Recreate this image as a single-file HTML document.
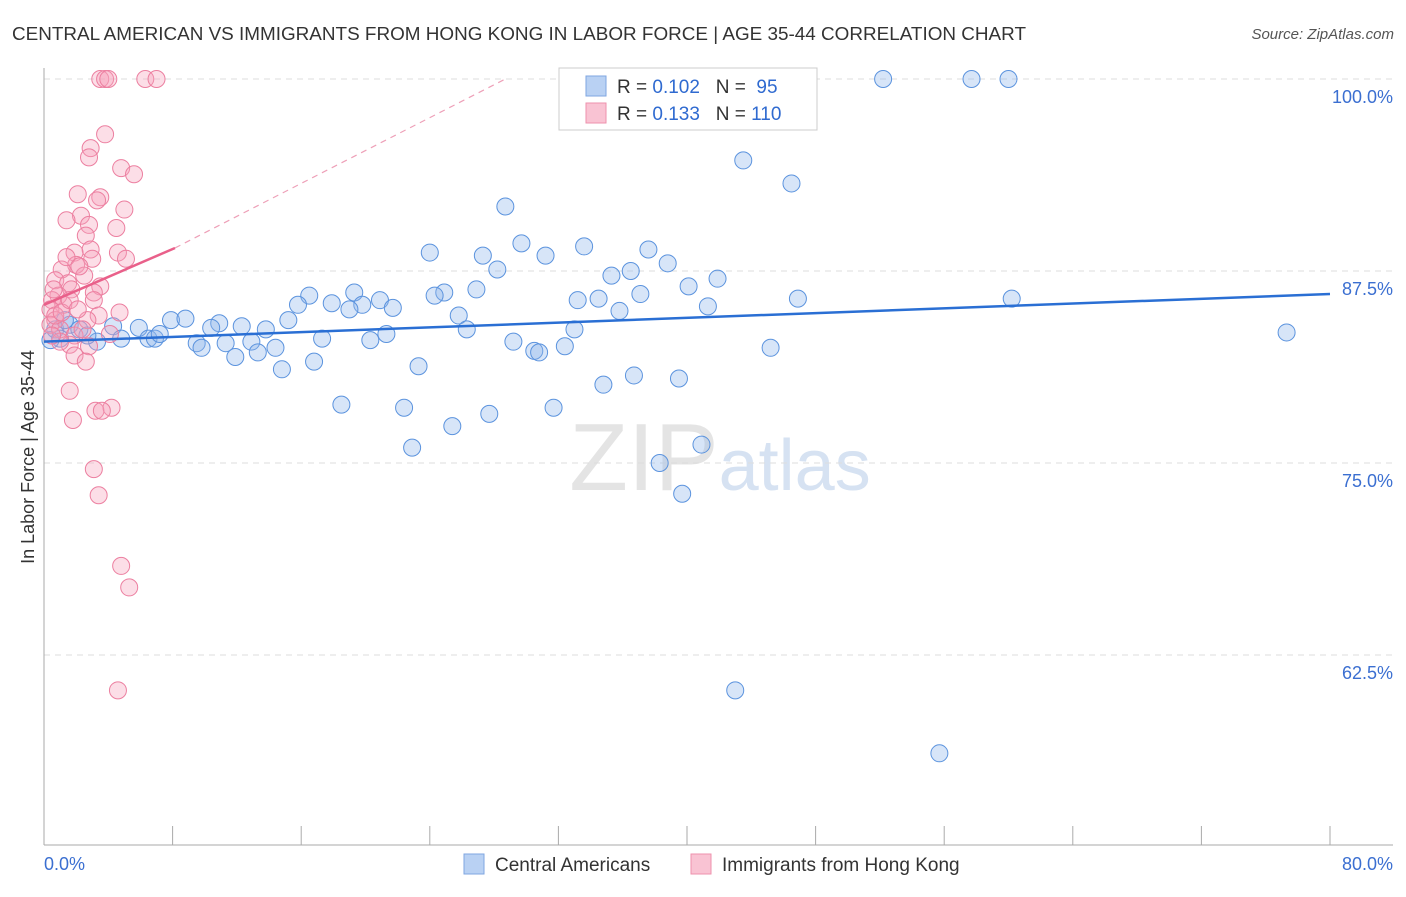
<!DOCTYPE html>
<html><head><meta charset="utf-8"><style>
body{margin:0;background:#fff;font-family:"Liberation Sans",sans-serif;}
svg text{font-family:"Liberation Sans",sans-serif;}
</style></head><body>
<svg id="chart" width="1406" height="892">
<text x="12" y="40" font-size="18" fill="#333" textLength="1014" lengthAdjust="spacingAndGlyphs">CENTRAL AMERICAN VS IMMIGRANTS FROM HONG KONG IN LABOR FORCE | AGE 35-44 CORRELATION CHART</text>
<text x="1394" y="39" font-size="15" fill="#555" text-anchor="end" font-style="italic">Source: ZipAtlas.com</text>
<text x="720" y="490" font-size="96" fill="#e4e4e4" text-anchor="middle" font-family="Liberation Serif">ZIP<tspan fill="#d6e2f2" font-family="Liberation Sans" font-size="72">atlas</tspan></text>
<g id="grid"></g><g id="axes"></g><g id="pts"></g><g id="trend"></g>
<text x="34" y="457" font-size="18" fill="#333" text-anchor="middle" transform="rotate(-90 34 457)">In Labor Force | Age 35-44</text>
<text x="44" y="870" font-size="18" fill="#3b6fd1">0.0%</text>
<text x="1393" y="870" font-size="18" fill="#3b6fd1" text-anchor="end">80.0%</text>
<g>
<rect x="559" y="68" width="258" height="62" fill="#fff" stroke="#ccc"/>
<rect x="586" y="76" width="20" height="20" fill="#b9d1f3" stroke="#7fa6e0"/>
<rect x="586" y="103" width="20" height="20" fill="#f9c3d3" stroke="#ee91ad"/>
<text x="617" y="93" font-size="19" fill="#333">R = <tspan fill="#2f6ad0">0.102</tspan>&#160;&#160;&#160;N = <tspan fill="#2f6ad0">&#160;95</tspan></text>
<text x="617" y="120" font-size="19" fill="#333">R = <tspan fill="#2f6ad0">0.133</tspan>&#160;&#160;&#160;N = <tspan fill="#2f6ad0">110</tspan></text>
</g>
<g>
<rect x="464" y="854" width="20" height="20" fill="#b9d1f3" stroke="#7fa6e0"/>
<text x="495" y="871" font-size="19" fill="#333">Central Americans</text>
<rect x="691" y="854" width="20" height="20" fill="#f9c3d3" stroke="#ee91ad"/>
<text x="722" y="871" font-size="19" fill="#333">Immigrants from Hong Kong</text>
</g>
</svg>
<script>
const yTicks=[100,87.5,75,62.5];
const yTickLabels=["100.0%","87.5%","75.0%","62.5%"];
const xTicks=[0,8,16,24,32,40,48,56,64,72,80];
const blueX=[52.2,57.7,60.0,43.5,46.5,28.7,29.7,33.6,37.6,24.0,27.3,31.2,38.8,28.2,35.3,36.5,41.9,26.9,40.1,19.3,24.9,24.3,16.5,15.8,20.9,19.8,17.9,19.0,21.7,33.2,34.5,37.1,41.3,46.9,60.2,35.8,25.8,15.2,77.3,7.9,8.8,10.9,12.3,10.4,13.8,5.9,4.3,26.3,33.0,21.3,17.3,20.3,4.8,6.5,6.9,7.2,3.3,9.5,9.8,11.3,12.9,14.4,13.3,11.9,29.2,30.5,30.8,32.4,45.2,16.8,14.8,23.3,34.8,36.7,39.5,18.5,22.4,31.7,27.7,25.4,22.9,40.9,38.3,39.7,43.0,55.7,0.7,1.0,1.6,2.2,2.7,1.3,0.4];
const blueY=[100,100,100,94.7,93.2,91.7,89.3,89.1,88.9,88.7,88.5,88.5,88.0,87.6,87.2,87.5,87.0,86.3,86.5,86.1,86.1,85.9,85.9,85.3,85.6,85.3,85.4,85.0,85.1,85.6,85.7,86.0,85.2,85.7,85.7,84.9,84.6,84.3,83.5,84.3,84.4,84.1,83.9,83.8,83.7,83.8,83.9,83.7,83.7,83.4,83.1,83.0,83.1,83.1,83.1,83.4,82.9,82.8,82.5,82.8,82.9,82.5,82.2,81.9,82.9,82.3,82.2,82.6,82.5,81.6,81.1,81.3,80.1,80.7,80.5,78.8,78.6,78.6,78.2,77.4,76.0,76.2,75.0,73.0,60.2,56.1,83.7,83.1,84.0,83.7,83.3,84.3,83.0];
const pinkX=[3.5,3.8,4.0,6.3,7.0,3.8,2.9,2.8,4.8,5.6,2.1,3.5,3.3,5.0,2.3,1.4,2.8,4.5,2.6,2.9,1.9,4.6,5.1,3.0,2.0,1.1,2.5,0.7,1.5,1.7,3.5,3.1,0.9,0.5,1.2,0.4,3.1,4.7,3.4,2.7,0.7,0.4,1.0,1.9,2.4,4.1,1.6,2.8,1.0,1.9,2.6,1.6,3.2,4.2,3.6,1.8,3.1,3.4,4.8,5.3,4.6,0.6,1.4,2.2,0.7,1.1,1.6,2.1,0.5];
const pinkY=[100,100,100,100,100,96.4,95.5,94.9,94.2,93.8,92.5,92.3,92.1,91.5,91.1,90.8,90.5,90.3,89.8,88.9,88.7,88.7,88.3,88.3,87.9,87.6,87.2,86.9,86.7,86.3,86.5,86.1,85.9,85.6,85.3,85.0,85.6,84.8,84.6,84.3,84.3,84.0,83.7,83.3,83.7,83.4,82.7,82.6,82.9,82.0,81.6,79.7,78.4,78.6,78.4,77.8,74.6,72.9,68.3,66.9,60.2,86.3,88.4,87.8,84.6,84.8,85.6,85.0,83.3];
const blueTrend=[[0,82.9],[80,86.0]];
const pinkTrendSolid=[[0,85.3],[8.15,89.0]];
const pinkTrendDash=[[8.15,89.0],[28.7,100]];
const NS="http://www.w3.org/2000/svg";
const X=v=>44+v*(1286/80);
const Y=v=>79+(100-v)*15.36;
function mk(tag,attrs,parent){const e=document.createElementNS(NS,tag);for(const k in attrs)e.setAttribute(k,attrs[k]);document.getElementById(parent).appendChild(e);return e;}
yTicks.forEach((t,i)=>{
 const l=mk('line',{x1:44,x2:1393,y1:Y(t),y2:Y(t),stroke:'#ddd','stroke-dasharray':'6,5'},'grid');
 
 
 const tx=mk('text',{x:1393,y:Y(t)+24,'font-size':18,fill:'#3b6fd1','text-anchor':'end'},'grid');
 tx.textContent=yTickLabels[i];
 
 
});
let a=mk('line',{x1:44,x2:44,y1:68,y2:845,stroke:'#aaa'},'axes');


a=mk('line',{x1:44,x2:1393,y1:845,y2:845,stroke:'#aaa'},'axes');


xTicks.forEach(t=>{
 const l=mk('line',{x1:X(t),x2:X(t),y1:826,y2:845,stroke:'#aaa'},'axes');
 
 
});
blueX.forEach((v,i)=>{
 const c=mk('circle',{cx:X(v),cy:Y(blueY[i]),r:8.5,fill:'rgba(140,180,235,0.35)',stroke:'#5b93de','stroke-width':1},'pts');
 
 
});
pinkX.forEach((v,i)=>{
 const c=mk('circle',{cx:X(v),cy:Y(pinkY[i]),r:8.5,fill:'rgba(245,160,185,0.35)',stroke:'#ec7fa0','stroke-width':1},'pts');
 
 
});
let t=mk('line',{x1:X(blueTrend[0][0]),y1:Y(blueTrend[0][1]),x2:X(blueTrend[1][0]),y2:Y(blueTrend[1][1]),stroke:'#2a6fd4','stroke-width':2.5},'trend');


t=mk('line',{x1:X(pinkTrendSolid[0][0]),y1:Y(pinkTrendSolid[0][1]),x2:X(pinkTrendSolid[1][0]),y2:Y(pinkTrendSolid[1][1]),stroke:'#e9608a','stroke-width':2.5},'trend');


t=mk('line',{x1:X(pinkTrendDash[0][0]),y1:Y(pinkTrendDash[0][1]),x2:X(pinkTrendDash[1][0]),y2:Y(pinkTrendDash[1][1]),stroke:'#eea0b8','stroke-width':1.2,'stroke-dasharray':'6,5'},'trend');


</script>
</body></html>
